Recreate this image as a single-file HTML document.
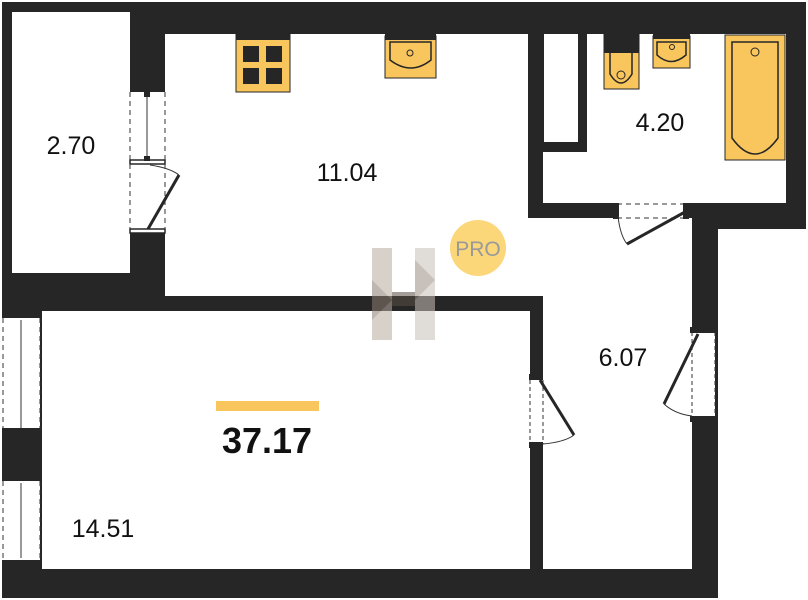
<!DOCTYPE html>
<html><head><meta charset="utf-8"><style>
html,body{margin:0;padding:0;background:#fff;}
svg{display:block;}
text{font-family:"Liberation Sans",sans-serif;fill:#111;}
</style></head><body>
<svg width="808" height="600" viewBox="0 0 808 600" xmlns="http://www.w3.org/2000/svg">
<!-- walls mass -->
<rect x="2" y="2" width="804" height="227" fill="#262626"/>
<rect x="2" y="2" width="716" height="596" fill="#262626"/>
<!-- rooms white -->
<rect x="12" y="12" width="118" height="261" fill="#fff"/>
<rect x="165" y="34" width="363" height="262" fill="#fff"/>
<rect x="42" y="311" width="488" height="258" fill="#fff"/>
<rect x="543" y="218" width="149" height="351" fill="#fff"/>
<rect x="528" y="218" width="20" height="78" fill="#fff"/>
<rect x="543" y="34" width="243" height="169" fill="#fff"/>
<!-- shaft -->
<rect x="543" y="34" width="44" height="118" fill="#262626"/>
<rect x="544" y="34" width="34" height="108" fill="#fff"/>
<!-- balcony/kitchen door opening -->
<rect x="130" y="88" width="35" height="144" fill="#fff"/>
<rect x="130" y="88" width="35" height="4" fill="#262626"/>
<rect x="130" y="160" width="35" height="4" fill="#fff" stroke="#262626" stroke-width="1.5"/>
<rect x="130" y="229" width="35" height="4" fill="#fff" stroke="#262626" stroke-width="1.5"/>
<line x1="130" y1="92" x2="130" y2="229" stroke="#333" stroke-dasharray="5,4"/>
<line x1="165" y1="92" x2="165" y2="229" stroke="#333" stroke-dasharray="5,4"/>
<line x1="147" y1="95" x2="147" y2="158" stroke="#333"/>
<rect x="144" y="92" width="6" height="5" fill="#262626"/><rect x="144" y="156" width="6" height="5" fill="#262626"/>
<line x1="148" y1="229" x2="179" y2="175" stroke="#262626" stroke-width="3"/>
<path d="M150 165 Q170 168 179 175" fill="none" stroke="#333"/>
<!-- left windows -->
<rect x="2" y="315" width="38" height="118" fill="#fff"/>
<rect x="2" y="478" width="38" height="85" fill="#fff"/>
<g stroke="#333" stroke-dasharray="5,4">
<line x1="3" y1="318" x2="3" y2="430"/><line x1="40" y1="318" x2="40" y2="430"/>
<line x1="3" y1="481" x2="3" y2="560"/><line x1="40" y1="481" x2="40" y2="560"/></g>
<line x1="21" y1="320" x2="21" y2="428" stroke="#333"/>
<line x1="21" y1="483" x2="21" y2="558" stroke="#333"/>
<rect x="2" y="313" width="38" height="5" fill="#262626"/><rect x="2" y="428" width="38" height="6" fill="#262626"/>
<rect x="2" y="476" width="38" height="5" fill="#262626"/><rect x="2" y="560" width="38" height="6" fill="#262626"/>
<!-- living room door -->
<rect x="530" y="378" width="13" height="67" fill="#fff"/>
<line x1="530" y1="380" x2="530" y2="444" stroke="#333" stroke-dasharray="4,3"/>
<line x1="543" y1="380" x2="543" y2="444" stroke="#333" stroke-dasharray="4,3"/>
<rect x="529" y="374" width="14" height="6" fill="#262626"/><rect x="529" y="442" width="14" height="6" fill="#262626"/>
<line x1="540" y1="380" x2="574" y2="435" stroke="#262626" stroke-width="3"/>
<path d="M543 444 Q565 442 574 435" fill="none" stroke="#333"/>
<!-- entrance door -->
<rect x="692" y="330" width="23" height="90" fill="#fff"/>
<line x1="692" y1="332" x2="692" y2="418" stroke="#333" stroke-dasharray="4,3"/>
<line x1="715" y1="332" x2="715" y2="418" stroke="#333" stroke-dasharray="4,3"/>
<rect x="690" y="327" width="25" height="6" fill="#262626"/><rect x="690" y="416" width="25" height="6" fill="#262626"/>
<line x1="698" y1="334" x2="664" y2="404" stroke="#262626" stroke-width="3"/>
<path d="M664 404 Q675 414 692 416" fill="none" stroke="#333"/>
<!-- bathroom door -->
<rect x="615" y="203" width="72" height="15" fill="#fff"/>
<line x1="617" y1="204" x2="686" y2="204" stroke="#333" stroke-dasharray="5,4"/>
<line x1="617" y1="218" x2="686" y2="218" stroke="#333" stroke-dasharray="5,4"/>
<rect x="613" y="203" width="6" height="16" fill="#262626"/><rect x="683" y="203" width="6" height="16" fill="#262626"/>
<line x1="685" y1="212" x2="627" y2="244" stroke="#262626" stroke-width="3"/>
<path d="M618 216 Q620 235 627 244" fill="none" stroke="#333"/>
<!-- stove -->
<rect x="236" y="34" width="54" height="58" fill="#f9c55d" stroke="#262626"/>
<rect x="236" y="34" width="54" height="6" fill="#262626"/>
<rect x="243" y="46" width="16" height="16" fill="#262626"/><rect x="266" y="46" width="16" height="16" fill="#262626"/>
<rect x="243" y="68" width="16" height="16" fill="#262626"/><rect x="266" y="68" width="16" height="16" fill="#262626"/>
<!-- kitchen sink -->
<rect x="385" y="36" width="51" height="42" fill="#f9c55d" stroke="#262626"/>
<rect x="385" y="34" width="51" height="6" fill="#262626"/>
<path d="M390 42 H431 V60 Q411 76 390 60 Z" fill="#f9c55d" stroke="#262626" stroke-width="1.5"/>
<circle cx="410" cy="53" r="3" fill="none" stroke="#262626"/>
<!-- toilet -->
<rect x="604" y="34" width="35" height="55" fill="#f9c55d" stroke="#262626"/>
<rect x="604" y="34" width="35" height="19" fill="#262626"/>
<path d="M610 53 V74 Q621 92 632 74 V53" fill="none" stroke="#262626" stroke-width="1.5"/>
<circle cx="621" cy="75" r="4" fill="none" stroke="#262626"/>
<!-- bath sink -->
<rect x="653" y="36" width="37" height="32" fill="#f9c55d" stroke="#262626"/>
<rect x="653" y="34" width="37" height="5" fill="#262626"/>
<path d="M657 42 H686 V55 Q671 68 657 55 Z" fill="none" stroke="#262626" stroke-width="1.5"/>
<circle cx="672" cy="47" r="2.5" fill="none" stroke="#262626"/>
<!-- bathtub -->
<rect x="725" y="35" width="60" height="125" fill="#f9c55d" stroke="#262626"/>
<path d="M732 42 H778 V138 Q755 170 732 138 Z" fill="none" stroke="#262626" stroke-width="1.5"/>
<circle cx="755" cy="52" r="4" fill="none" stroke="#262626"/>
<!-- watermark -->
<g opacity="0.55">
<polygon points="372,248 392,248 392,340 372,340" fill="#b8aca0"/>
<polygon points="415,248 435,248 435,340 415,340" fill="#c8c0b8"/>
<polygon points="372,280 392,300 372,320" fill="#8a7c70"/>
<polygon points="392,292 415,292 415,306 392,306" fill="#5a4e44"/>
<polygon points="415,260 435,280 415,300" fill="#9a8e84"/>
</g>
<circle cx="478" cy="248" r="28" fill="#fbd77a"/>
<text x="478" y="256" font-size="21" text-anchor="middle" style="fill:#999">PRO</text>
<!-- labels -->
<text x="71" y="154" font-size="25" text-anchor="middle">2.70</text>
<text x="347" y="181" font-size="25" text-anchor="middle">11.04</text>
<text x="660" y="131" font-size="25" text-anchor="middle">4.20</text>
<text x="623" y="366" font-size="25" text-anchor="middle">6.07</text>
<text x="103" y="537" font-size="25" text-anchor="middle">14.51</text>
<rect x="216" y="401" width="103" height="10" fill="#f9c55d"/>
<text x="267" y="453" font-size="36" font-weight="bold" text-anchor="middle">37.17</text>
</svg>
</body></html>
